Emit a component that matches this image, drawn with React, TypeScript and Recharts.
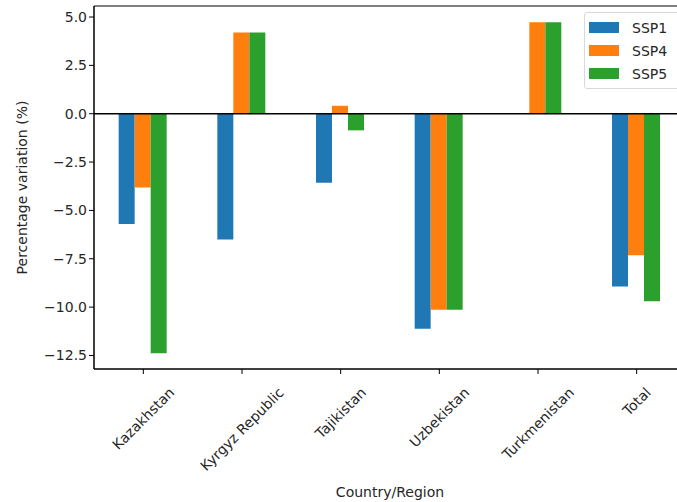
import React from 'react';
import { BarChart, Bar, XAxis, YAxis, ReferenceLine, ReferenceArea } from 'recharts';

const countries = ['Kazakhstan', 'Kyrgyz Republic', 'Tajikistan', 'Uzbekistan', 'Turkmenistan', 'Total'];
const ssp1 = [-5.7, -6.5, -3.57, -11.12, 0, -8.93];
const ssp4 = [-3.81, 4.2, 0.41, -10.13, 4.73, -7.32];
const ssp5 = [-12.38, 4.2, -0.86, -10.13, 4.73, -9.7];
const yTicks = [-12.5, -10, -7.5, -5, -2.5, 0, 2.5, 5];

const series = [
    { key: 'SSP1', color: '#1f77b4' },
    { key: 'SSP4', color: '#ff7f0e' },
    { key: 'SSP5', color: '#2ca02c' },
];

const FONT = '"DejaVu Sans", sans-serif';
const Y_MIN = -13.2;
const Y_MAX = 5.57;

const data = countries.map((name, i) => ({
    name,
    SSP1: ssp1[i],
    SSP4: ssp4[i],
    SSP5: ssp5[i],
}));

// measure label width so the rotated text box sits centred under the tick
let ctx: CanvasRenderingContext2D | null = null;
const textWidth = (s: string) => {
    if (!ctx) ctx = document.createElement('canvas').getContext('2d');
    if (!ctx) return s.length * 8;
    ctx.font = '14px "DejaVu Sans"';
    return ctx.measureText(s).width;
};

const CountryTick = (props: any) => {
    const { x, y, payload } = props;
    const w = textWidth(payload.value);
    const cy = y + 8 + ((w + 14) * 0.7071) / 2;
    return (
        <g>
            <line x1={x} x2={x} y1={y - 8} y2={y - 3} stroke="#000" strokeWidth={1} />
            <text
                x={x}
                y={cy}
                textAnchor="middle"
                dominantBaseline="central"
                transform={`rotate(-45, ${x}, ${cy})`}
                fontSize={14}
                fontFamily={FONT}
                fill="#262626"
            >
                {payload.value}
            </text>
        </g>
    );
};

const YLabel = (props: any) => {
    const { viewBox } = props;
    const cx = 22;
    const cy = viewBox.y + viewBox.height / 2;
    return (
        <text
            x={cx}
            y={cy}
            textAnchor="middle"
            dominantBaseline="central"
            transform={`rotate(-90, ${cx}, ${cy})`}
            fontSize={14}
            fontFamily={FONT}
            fill="#262626"
        >
            Percentage variation (%)
        </text>
    );
};

const fmt = (v: number) => (v < 0 ? '\u2212' + Math.abs(v).toFixed(1) : v.toFixed(1));

const LegendBox = () => (
    <div
        style={{
            position: 'absolute',
            left: 584,
            top: 12,
            border: '1px solid #d9d9d9',
            borderRadius: 3,
            background: 'rgba(255,255,255,0.85)',
            padding: '3px 10px 3px 4px',
            width: 100,
            fontFamily: FONT,
            fontSize: 14,
            color: '#262626',
        }}
    >
        {series.map(s => (
            <div key={s.key} style={{ display: 'flex', alignItems: 'center', height: 23 }}>
                <span style={{ display: 'inline-block', width: 30, height: 11, background: s.color, marginRight: 13 }} />
                {s.key}
            </div>
        ))}
    </div>
);

export default function App() {
    return (
        <div style={{ position: 'absolute', left: 0, top: 0, width: 677, height: 502, overflow: 'hidden', background: '#fff' }}>
            <BarChart
                width={700}
                height={502}
                data={data}
                margin={{ top: 6, right: 14, bottom: 0, left: 0 }}
                barCategoryGap="25%"
                barGap={0}
            >
                <XAxis
                    dataKey="name"
                    height={133}
                    interval={0}
                    tickLine={false}
                    axisLine={{ stroke: '#000', strokeWidth: 1 }}
                    tick={<CountryTick />}
                    label={{
                        value: 'Country/Region',
                        position: 'insideBottom',
                        offset: 5,
                        fontSize: 14,
                        fontFamily: FONT,
                        fill: '#262626',
                    }}
                />
                <YAxis
                    width={94}
                    domain={[Y_MIN, Y_MAX]}
                    ticks={yTicks}
                    allowDataOverflow
                    tickFormatter={fmt}
                    tick={{ fontSize: 14, fontFamily: FONT, fill: '#262626' }}
                    tickLine={{ stroke: '#000' }}
                    tickSize={5}
                    axisLine={{ stroke: '#000', strokeWidth: 1 }}
                    label={<YLabel />}
                />
                {series.map(s => (
                    <Bar key={s.key} dataKey={s.key} fill={s.color} isAnimationActive={false} />
                ))}
                <ReferenceLine y={0} stroke="#000" strokeWidth={1.5} />
                <ReferenceArea y1={Y_MIN} y2={Y_MAX} fill="none" fillOpacity={0} stroke="#000" strokeWidth={1} />
            </BarChart>
            <LegendBox />
        </div>
    );
}
